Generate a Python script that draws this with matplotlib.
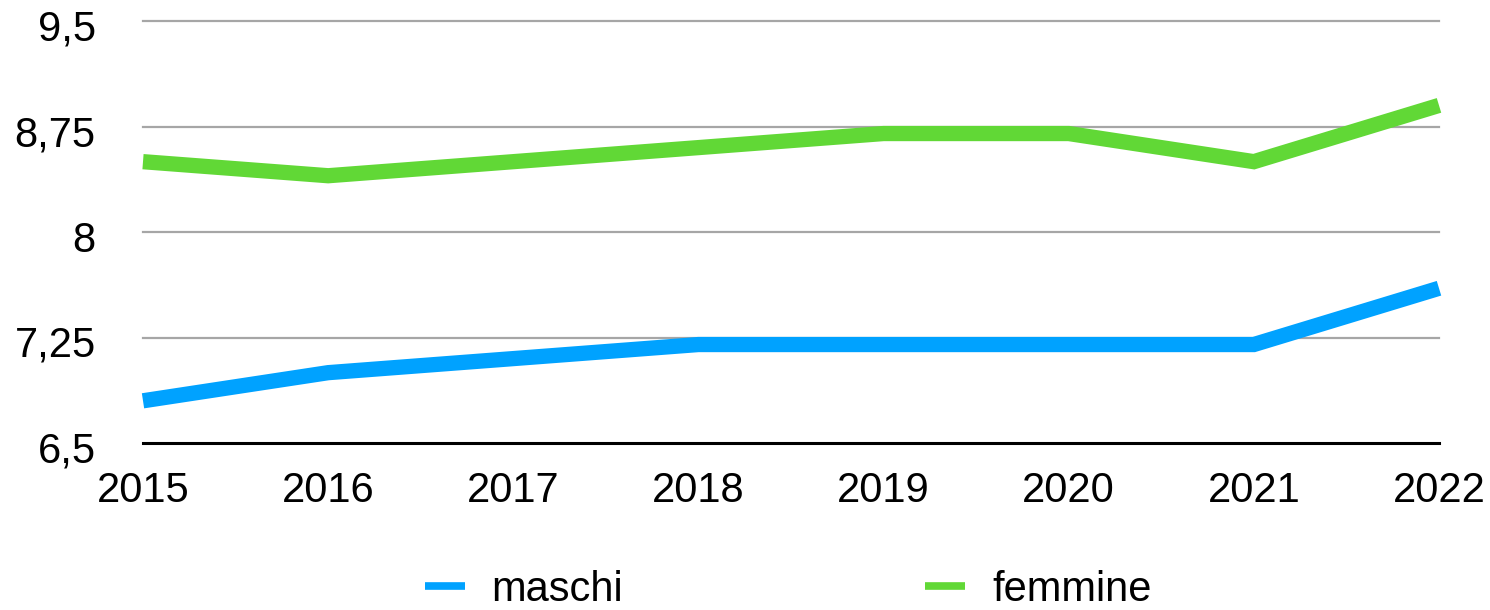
import matplotlib
matplotlib.use("Agg")
import matplotlib.pyplot as plt
from matplotlib.lines import Line2D
from matplotlib.transforms import ScaledTranslation

years = [2015, 2016, 2017, 2018, 2019, 2020, 2021, 2022]
maschi = [6.8, 7.0, 7.1, 7.2, 7.2, 7.2, 7.2, 7.6]
femmine = [8.5, 8.4, 8.5, 8.6, 8.7, 8.7, 8.5, 8.9]
y_ticks = [6.5, 7.25, 8.0, 8.75, 9.5]
y_labels = ["6,5", "7,25", "8", "8,75", "9,5"]
series_names = ["maschi", "femmine"]
colors = ["#00A2FF", "#61D836"]

plt.rcParams['font.family'] = ['Liberation Sans', 'DejaVu Sans']

fig = plt.figure(figsize=(14.9, 6.1), dpi=100)
ax = fig.add_axes([143/1490, 1-443/610, (1439-143)/1490, (443-21)/610])

for vals, c in zip([maschi, femmine], colors):
    ax.plot(years, vals, color=c, lw=11, solid_capstyle='butt',
            solid_joinstyle='miter', clip_on=False, zorder=3)

ax.set_xlim(2015, 2022)
ax.set_ylim(6.5, 9.5)
ax.set_yticks(y_ticks)
ax.set_yticklabels(y_labels)
ax.set_xticks(years)
ax.set_xticklabels([str(y) for y in years])
for yv in y_ticks[1:]:
    ax.axhline(yv, color="#A6A6A6", lw=1.6, zorder=1, clip_on=False)

for s in ["top", "right", "left"]:
    ax.spines[s].set_visible(False)
ax.spines["bottom"].set_linewidth(2.2)
ax.spines["bottom"].set_color("black")
ax.spines["bottom"].set_zorder(4)
ax.tick_params(axis='both', length=0, labelsize=30)
ax.tick_params(axis='y', pad=34)
ax.tick_params(axis='x', pad=20)

off = ScaledTranslation(0, -4/100, fig.dpi_scale_trans)
for lab in ax.get_yticklabels():
    lab.set_transform(lab.get_transform() + off)

handles = [Line2D([0], [0], color=c, lw=5.5, solid_capstyle='butt') for c in colors]
fig.legend(handles, series_names, loc='center', bbox_to_anchor=(0.529, 1-590/610),
           ncol=2, frameon=False, fontsize=30, handlelength=0.95, handletextpad=0.65,
           columnspacing=7.25, borderaxespad=0)

fig.savefig("out.png", dpi=100)
